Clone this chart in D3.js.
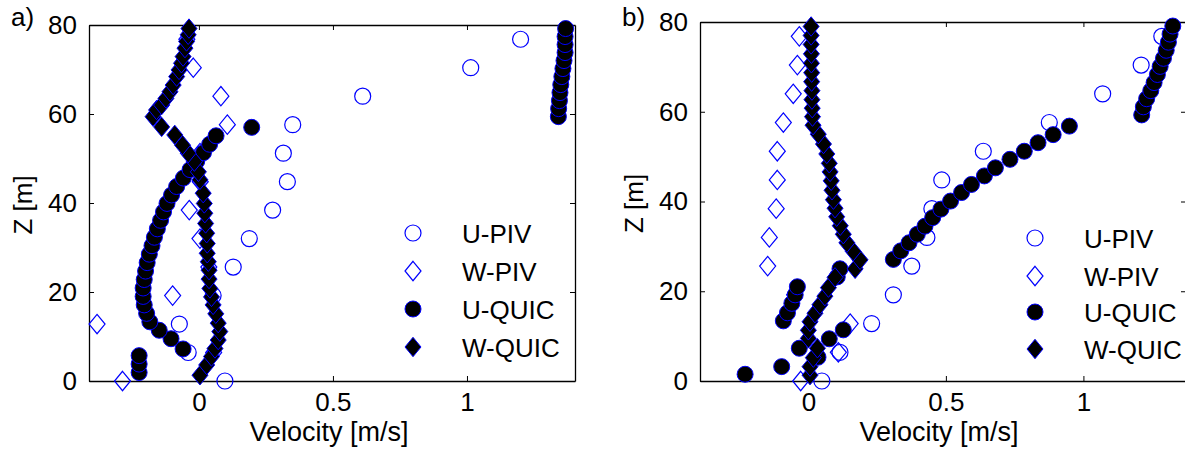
<!DOCTYPE html>
<html>
<head>
<meta charset="utf-8">
<title>Velocity profiles</title>
<script src="https://cdn.jsdelivr.net/npm/d3@7"></script>
<style>
  body {margin: 0; background: #fff;}
  svg text {font-family: "Liberation Sans", Arial, sans-serif; font-size: 26px; fill: #000;}
</style>
</head>
<body>
<div id="chart"></div>
<script>
// PIV measurement heights (same for both panels)
var pivZ = [0, 6.4, 12.8, 19.2, 25.6, 32, 38.4, 44.8, 51.2, 57.6, 64, 70.4, 76.8];

// panel a)
var aUPiv = [0.097, -0.04, -0.073, 0.053, 0.128, 0.188, 0.275, 0.33, 0.315, 0.35, 0.611, 1.014, 1.2];
var aWPiv = [-0.285, 0.055, -0.38, -0.098, 0.037, 0.004, -0.036, 0.005, 0.004, 0.106, 0.082, -0.021, -0.045];
var aUQuic = [
  [-0.223, 1.9], [-0.223, 3.8], [-0.223, 5.7], [-0.059, 7.2], [-0.104, 9.5], [-0.148, 11.4],
  [-0.183, 13.3], [-0.195, 15.2], [-0.204, 17.1], [-0.208, 19.0], [-0.208, 20.9], [-0.204, 22.8],
  [-0.199, 24.7], [-0.193, 26.6], [-0.185, 28.5], [-0.175, 30.4], [-0.166, 32.3], [-0.155, 34.2],
  [-0.143, 36.1], [-0.132, 38.0], [-0.119, 39.9], [-0.102, 41.8], [-0.083, 43.7], [-0.058, 45.6],
  [-0.033, 47.5], [-0.008, 49.4], [0.017, 51.3], [0.040, 53.2], [0.064, 55.1], [0.197, 57.0],
  [1.341, 59.4], [1.342, 61.2], [1.345, 63.0], [1.347, 64.8], [1.350, 66.6], [1.354, 68.4],
  [1.358, 70.2], [1.362, 72.0], [1.366, 73.8], [1.366, 75.6], [1.366, 77.4], [1.368, 79.2]
];
var aWQuic = [
  [0.004, 1.3], [0.029, 3.6], [0.047, 5.5], [0.060, 7.3], [0.072, 9.2], [0.078, 11.1],
  [0.072, 13.0], [0.063, 15.1], [0.053, 17.1], [0.047, 18.9], [0.041, 20.8], [0.038, 22.9],
  [0.038, 24.9], [0.035, 26.8], [0.031, 28.7], [0.031, 30.9], [0.029, 33.2], [0.025, 35.4],
  [0.022, 37.7], [0.020, 39.9], [0.016, 42.2], [0.004, 45.2], [-0.002, 47.0], [-0.017, 49.3],
  [-0.040, 51.2], [-0.061, 53.0], [-0.090, 55.3], [-0.139, 57.1], [-0.171, 59.4], [-0.158, 60.9],
  [-0.139, 62.0], [-0.123, 63.5], [-0.108, 65.0], [-0.096, 66.5], [-0.083, 68.4], [-0.074, 69.9],
  [-0.065, 71.4], [-0.059, 72.9], [-0.052, 74.8], [-0.046, 76.3], [-0.040, 77.8], [-0.037, 79.2]
];

// panel b)
var bUPiv = [0.049, 0.115, 0.23, 0.309, 0.376, 0.431, 0.449, 0.485, 0.636, 0.876, 1.07, 1.21, 1.285];
var bWPiv = [-0.028, 0.109, 0.152, -0.05, -0.148, -0.142, -0.117, -0.113, -0.113, -0.091, -0.055, -0.04, -0.033];
var bUQuic = [
  [-0.230, 1.5], [-0.097, 3.2], [0.035, 5.3], [-0.033, 7.3], [0.076, 9.4], [0.127, 11.4],
  [-0.091, 13.4], [-0.076, 15.2], [-0.060, 17.3], [-0.048, 19.2], [-0.040, 21.0], [0.105, 23.2],
  [0.115, 25.0], [0.309, 27.1], [0.336, 29.0], [0.366, 30.8], [0.396, 32.7], [0.424, 34.5],
  [0.452, 36.4], [0.482, 38.3], [0.517, 40.1], [0.557, 42.0], [0.593, 43.8], [0.640, 45.7],
  [0.680, 47.5], [0.733, 49.4], [0.785, 51.2], [0.835, 53.1], [0.890, 54.9], [0.949, 56.8],
  [1.212, 59.3], [1.218, 61.1], [1.230, 62.9], [1.245, 64.7], [1.257, 66.5], [1.269, 68.3],
  [1.279, 70.1], [1.291, 71.9], [1.301, 73.7], [1.309, 75.5], [1.315, 77.3], [1.325, 79.1]
];
var bWQuic = [
  [0.006, 1.3], [0.006, 3.2], [0.018, 5.2], [0.033, 7.3], [0.000, 9.5], [0.000, 11.3],
  [0.006, 13.2], [0.024, 15.1], [0.042, 17.0], [0.060, 18.9], [0.073, 20.8], [0.097, 23.1],
  [0.170, 25.0], [0.188, 27.0], [0.163, 28.9], [0.140, 30.8], [0.127, 32.7], [0.116, 34.6],
  [0.103, 36.6], [0.097, 38.5], [0.091, 40.4], [0.086, 42.5], [0.083, 44.6], [0.079, 46.6],
  [0.076, 48.5], [0.067, 50.6], [0.055, 52.8], [0.036, 55.0], [0.017, 57.0], [0.015, 58.9],
  [0.014, 60.8], [0.013, 62.7], [0.013, 64.7], [0.012, 66.7], [0.012, 68.7], [0.011, 70.8],
  [0.011, 72.9], [0.010, 75.0], [0.010, 77.0], [0.010, 79.0]
];

var seriesNames = ["U-PIV", "W-PIV", "U-QUIC", "W-QUIC"];
var xTicks = [0, 0.5, 1];
var yTicks = [0, 20, 40, 60, 80];
var xLabel = "Velocity [m/s]";
var yLabel = "Z [m]";

var blue = "#0000ff";
var rC = 8;           // circle radius
var dW = 8, dH = 9.7; // diamond half width / height

var svg = d3.select("#chart").append("svg")
    .attr("width", 1185)
    .attr("height", 453)
    .style("background", "#fff");

function diamond() {
    return "M0," + (-dH) + "L" + dW + ",0L0," + dH + "L" + (-dW) + ",0Z";
}

function drawPanel(p) {
    var x = d3.scaleLinear().domain(p.xDomain).range([p.left, p.right]);
    var y = d3.scaleLinear().domain([0, 80]).range([p.bottom, p.top]);
    var g = svg.append("g");

    // axes (ticks inside, box on)
    g.append("g").attr("transform", "translate(0," + p.bottom + ")")
        .call(d3.axisBottom(x).tickValues(xTicks).tickSizeInner(-5).tickSizeOuter(0).tickPadding(12)
            .tickFormat(d3.format("")));
    g.append("g").attr("transform", "translate(0," + p.top + ")")
        .call(d3.axisTop(x).tickValues(xTicks).tickSizeInner(-5).tickSizeOuter(0).tickFormat(""));
    g.append("g").attr("transform", "translate(" + p.left + ",0)")
        .call(d3.axisLeft(y).tickValues(yTicks).tickSizeInner(-5).tickSizeOuter(0).tickPadding(12));
    g.append("g").attr("transform", "translate(" + p.right + ",0)")
        .call(d3.axisRight(y).tickValues(yTicks).tickSizeInner(-5).tickSizeOuter(0).tickFormat(""));
    g.selectAll(".domain").attr("stroke", "#000").attr("stroke-width", 1.3);
    g.selectAll(".tick line").attr("stroke", "#000");
    g.selectAll(".tick text").attr("font-size", 26.5).attr("font-family", "Liberation Sans, Arial, sans-serif")
        .attr("fill", "#000");

    // data
    var uPiv = p.uPiv.map(function(u, i) { return [u, pivZ[i]]; });
    var wPiv = p.wPiv.map(function(u, i) { return [u, pivZ[i]]; });

    g.selectAll(".upiv").data(uPiv).enter().append("circle")
        .attr("cx", function(d) { return x(d[0]); })
        .attr("cy", function(d) { return y(d[1]); })
        .attr("r", rC).attr("fill", "none").attr("stroke", blue).attr("stroke-width", 1.2);

    g.selectAll(".wpiv").data(wPiv).enter().append("path")
        .attr("d", diamond())
        .attr("transform", function(d) { return "translate(" + x(d[0]) + "," + y(d[1]) + ")"; })
        .attr("fill", "none").attr("stroke", blue).attr("stroke-width", 1.2);

    g.selectAll(".uquic").data(p.uQuic).enter().append("circle")
        .attr("cx", function(d) { return x(d[0]); })
        .attr("cy", function(d) { return y(d[1]); })
        .attr("r", rC).attr("fill", "#000").attr("stroke", blue).attr("stroke-width", 1);

    g.selectAll(".wquic").data(p.wQuic).enter().append("path")
        .attr("d", diamond())
        .attr("transform", function(d) { return "translate(" + x(d[0]) + "," + y(d[1]) + ")"; })
        .attr("fill", "#000").attr("stroke", blue).attr("stroke-width", 1);

    // legend
    var lg = g.append("g");
    seriesNames.forEach(function(name, i) {
        var ly = p.legendY[i];
        if (i == 0 || i == 2) {
            lg.append("circle").attr("cx", p.legendX).attr("cy", ly).attr("r", rC)
                .attr("fill", i == 2 ? "#000" : "none").attr("stroke", blue).attr("stroke-width", i == 2 ? 1 : 1.2);
        } else {
            lg.append("path").attr("d", diamond()).attr("transform", "translate(" + p.legendX + "," + ly + ")")
                .attr("fill", i == 3 ? "#000" : "none").attr("stroke", blue).attr("stroke-width", i == 3 ? 1 : 1.2);
        }
        lg.append("text").attr("x", p.legendX + 49).attr("y", ly + 9.5).text(name);
    });

    // labels
    g.append("text").attr("x", p.xLabelX).attr("y", 441)
        .attr("text-anchor", "middle").style("font-size", "27px").text(xLabel);
    g.append("text").attr("transform", "translate(" + (p.left - 57) + "," + ((p.top + p.bottom) / 2 + 2) + ") rotate(-90)")
        .attr("text-anchor", "middle").text(yLabel);
    g.append("text").attr("x", p.left - 78).attr("y", 26).text(p.tag);
}

drawPanel({
    tag: "a)", left: 89, right: 575, top: 25, bottom: 381, xDomain: [-0.41, 1.403],
    uPiv: aUPiv, wPiv: aWPiv, uQuic: aUQuic, wQuic: aWQuic,
    legendX: 413, legendY: [233, 271, 309, 347], xLabelX: 329
});
drawPanel({
    tag: "b)", left: 700, right: 1186, top: 22, bottom: 381, xDomain: [-0.394, 1.373],
    uPiv: bUPiv, wPiv: bWPiv, uQuic: bUQuic, wQuic: bWQuic,
    legendX: 1035, legendY: [238, 276, 312, 349], xLabelX: 939
});
</script>
</body>
</html>
